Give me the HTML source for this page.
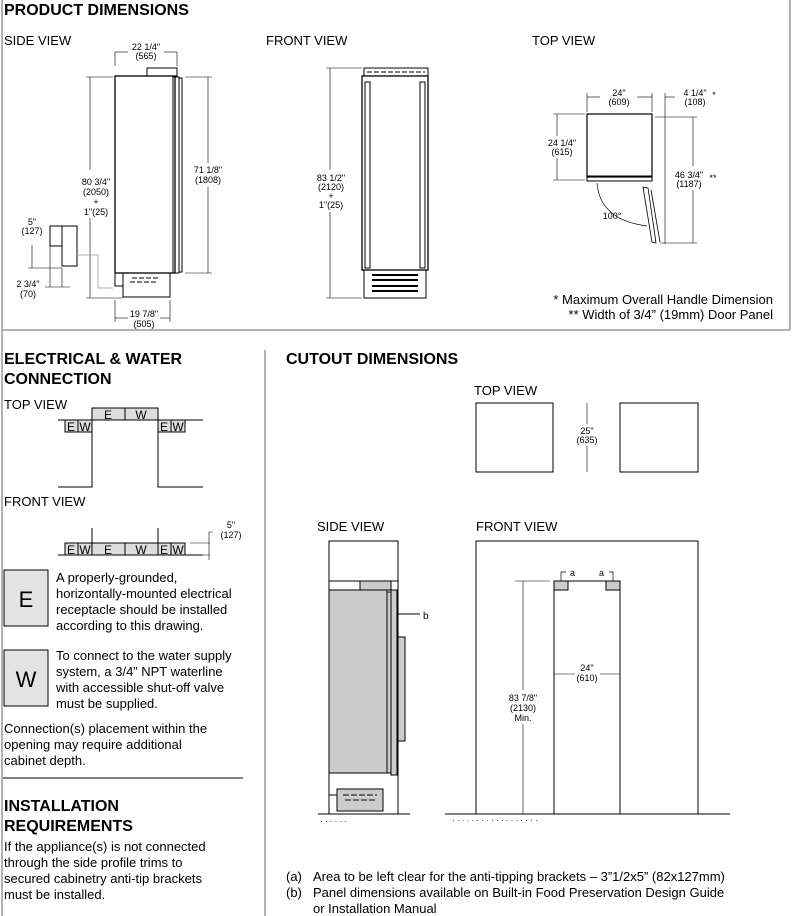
<!DOCTYPE html>
<html><head><meta charset="utf-8"><style>
html,body{margin:0;padding:0;background:#fff}
svg{display:block;font-family:"Liberation Sans",Arial,sans-serif}
</style></head><body>
<svg width="793" height="916" viewBox="0 0 793 916" xmlns="http://www.w3.org/2000/svg">
<g stroke="#999" stroke-width="1.5" fill="none">
<line x1="2" y1="0" x2="2" y2="916"/>
<line x1="790" y1="0" x2="790" y2="330"/>
<line x1="2" y1="330" x2="790" y2="330"/>
<line x1="265" y1="350" x2="265" y2="916"/>
</g>
<line x1="3" y1="778" x2="243" y2="778" stroke="#000" stroke-width="1"/>

<!-- headings -->
<g font-weight="bold" font-size="16" fill="#000">
<text x="4" y="15">PRODUCT DIMENSIONS</text>
<text x="4" y="364">ELECTRICAL &amp; WATER</text>
<text x="4" y="384">CONNECTION</text>
<text x="286" y="364">CUTOUT DIMENSIONS</text>
<text x="4" y="811">INSTALLATION</text>
<text x="4" y="831">REQUIREMENTS</text>
</g>
<g font-size="13" fill="#000">
<text x="4" y="45">SIDE VIEW</text>
<text x="266" y="45">FRONT VIEW</text>
<text x="532" y="45">TOP VIEW</text>
<text x="773" y="304" text-anchor="end">* Maximum Overall Handle Dimension</text>
<text x="773" y="319" text-anchor="end">** Width of 3/4” (19mm) Door Panel</text>
<text x="4" y="409">TOP VIEW</text>
<text x="4" y="506">FRONT VIEW</text>
<text x="474" y="395">TOP VIEW</text>
<text x="317" y="531">SIDE VIEW</text>
<text x="476" y="531">FRONT VIEW</text>
<text x="56" y="582">A properly-grounded,</text>
<text x="56" y="598">horizontally-mounted electrical</text>
<text x="56" y="614">receptacle should be installed</text>
<text x="56" y="630">according to this drawing.</text>
<text x="56" y="660">To connect to the water supply</text>
<text x="56" y="676">system, a 3/4” NPT waterline</text>
<text x="56" y="692">with accessible shut-off valve</text>
<text x="56" y="708">must be supplied.</text>
<text x="4" y="733">Connection(s) placement within the</text>
<text x="4" y="749">opening may require additional</text>
<text x="4" y="765">cabinet depth.</text>
<text x="4" y="851">If the appliance(s) is not connected</text>
<text x="4" y="867">through the side profile trims to</text>
<text x="4" y="883">secured cabinetry anti-tip brackets</text>
<text x="4" y="899">must be installed.</text>
<text x="286" y="881">(a)</text><text x="313" y="881">Area to be left clear for the anti-tipping brackets – 3”1/2x5” (82x127mm)</text>
<text x="286" y="897">(b)</text><text x="313" y="897">Panel dimensions available on Built-in Food Preservation Design Guide</text>
<text x="313" y="913">or Installation Manual</text>
</g>

<!-- SIDE VIEW product -->
<g stroke="#000" fill="none" stroke-width="1">
<rect x="147" y="68" width="30" height="8"/>
<rect x="115" y="76" width="60" height="197" stroke-width="1.3"/>
<rect x="173" y="77" width="6" height="196"/>
<rect x="179" y="78" width="3" height="194"/>
<rect x="123" y="273" width="47" height="24"/>
<rect x="115" y="273" width="8" height="13"/>
<path d="M130 282h28M132 278h28" stroke-dasharray="5 2"/>
<rect x="50" y="226" width="12" height="20"/>
<rect x="62" y="226" width="15" height="40"/>
</g>
<g stroke="#000" stroke-width="0.6" fill="none">
<line x1="115" y1="52" x2="115" y2="66"/><line x1="177" y1="52" x2="177" y2="66"/>
<line x1="115" y1="52" x2="128" y2="52"/><line x1="164" y1="52" x2="177" y2="52"/>
<line x1="90" y1="77" x2="90" y2="170"/><line x1="90" y1="218" x2="90" y2="298"/>
<line x1="86" y1="77" x2="113" y2="77"/><line x1="86" y1="298" x2="123" y2="298"/>
<line x1="208" y1="77" x2="208" y2="163"/><line x1="208" y1="187" x2="208" y2="273"/>
<line x1="185" y1="77" x2="212" y2="77"/><line x1="185" y1="273" x2="212" y2="273"/>
<line x1="115" y1="300" x2="115" y2="322"/><line x1="170" y1="300" x2="170" y2="322"/>
<line x1="115" y1="318" x2="128" y2="318"/><line x1="160" y1="318" x2="170" y2="318"/>
<line x1="32" y1="245" x2="32" y2="268"/><line x1="28" y1="268" x2="62" y2="268"/>
<line x1="50" y1="246" x2="50" y2="287"/><line x1="62" y1="268" x2="62" y2="287"/>
<line x1="45" y1="287" x2="70" y2="287"/>
</g>
<polyline points="77,255 98,255 98,288 113,288" stroke="#999" fill="none" stroke-width="0.8"/>
<g font-size="9" fill="#000" text-anchor="middle">
<text x="146" y="50">22 1/4"</text><text x="146" y="59">(565)</text>
<text x="96" y="185">80 3/4"</text><text x="96" y="195">(2050)</text><text x="96" y="205">+</text><text x="96" y="215">1"(25)</text>
<text x="208" y="173">71 1/8"</text><text x="208" y="183">(1808)</text>
<text x="144" y="317">19 7/8"</text><text x="144" y="327">(505)</text>
<text x="32" y="225">5"</text><text x="32" y="234">(127)</text>
<text x="28" y="287">2 3/4"</text><text x="28" y="297">(70)</text>
</g>

<!-- FRONT VIEW product -->
<g stroke="#000" fill="none" stroke-width="1">
<rect x="364" y="68" width="64" height="8"/>
<path d="M367 72h58" stroke-dasharray="5 2"/>
<rect x="362" y="76" width="66" height="194" stroke-width="1.3"/>
<rect x="365" y="82" width="5" height="186"/>
<rect x="420" y="82" width="5" height="186"/>
<rect x="364" y="270" width="62" height="28"/>
<path d="M372 275h46M372 280h46M372 286h46M372 291h46" stroke-width="2"/>
<line x1="326" y1="68" x2="362" y2="68" stroke-width="0.6"/>
<line x1="326" y1="298" x2="362" y2="298" stroke-width="0.6"/>
<line x1="330" y1="68" x2="330" y2="170" stroke-width="0.6"/>
<line x1="330" y1="212" x2="330" y2="298" stroke-width="0.6"/>
</g>
<g font-size="9" fill="#000" text-anchor="middle">
<text x="331" y="181">83 1/2"</text><text x="331" y="190">(2120)</text><text x="331" y="199">+</text><text x="331" y="208">1"(25)</text>
</g>

<!-- TOP VIEW product -->
<g stroke="#000" fill="none">
<rect x="587" y="114" width="65" height="63" stroke-width="1.2"/>
<rect x="587" y="176" width="65" height="5" stroke-width="1"/>
<path d="M643 187 L652 242 L656 243 L648 188Z" stroke-width="0.8"/>
<path d="M651 190 L660 242" stroke-width="0.8"/>
<path d="M597 183 Q600 220 647 226" stroke-width="0.7"/>
<g stroke-width="0.6">
<line x1="587" y1="97" x2="600" y2="97"/><line x1="637" y1="97" x2="652" y2="97"/>
<line x1="587" y1="93" x2="587" y2="112"/><line x1="652" y1="93" x2="652" y2="112"/>
<line x1="665" y1="93" x2="665" y2="244"/><line x1="665" y1="97" x2="675" y2="97"/>
<line x1="557" y1="114" x2="557" y2="136"/><line x1="557" y1="158" x2="557" y2="180"/>
<line x1="553" y1="114" x2="585" y2="114"/><line x1="553" y1="180" x2="585" y2="180"/>
<line x1="693" y1="117" x2="693" y2="166"/><line x1="693" y1="190" x2="693" y2="243"/>
<line x1="655" y1="117" x2="697" y2="117"/><line x1="660" y1="243" x2="697" y2="243"/>
</g>
</g>
<g font-size="9" fill="#000" text-anchor="middle">
<text x="619" y="96">24"</text><text x="619" y="105">(609)</text>
<text x="695" y="96">4 1/4"</text><text x="695" y="105">(108)</text><text x="714" y="98">*</text>
<text x="562" y="146">24 1/4"</text><text x="562" y="155">(615)</text>
<text x="689" y="178">46 3/4"</text><text x="689" y="187">(1187)</text><text x="713" y="181">**</text>
<text x="612" y="219">100°</text>
</g>

<!-- ELECTRICAL TOP VIEW -->
<g stroke="#000" stroke-width="1">
<rect x="92" y="408" width="66" height="12" fill="#ddd"/>
<line x1="125" y1="408" x2="125" y2="420"/>
<rect x="65" y="420" width="27" height="12" fill="#ddd"/>
<line x1="78" y1="420" x2="78" y2="432"/>
<rect x="158" y="420" width="27" height="12" fill="#ddd"/>
<line x1="171" y1="420" x2="171" y2="432"/>
<path d="M58 420H92V487H58M203 420H158V487H203" fill="none"/>
</g>
<g font-size="12" fill="#000" text-anchor="middle">
<text x="108" y="419">E</text><text x="141" y="419">W</text>
<text x="71" y="431">E</text><text x="85" y="431">W</text>
<text x="164" y="431">E</text><text x="178" y="431">W</text>
</g>
<!-- ELECTRICAL FRONT VIEW -->
<g stroke="#000" stroke-width="1">
<rect x="65" y="543" width="120" height="12" fill="#ddd"/>
<path d="M78 543v12M92 543v12M125 543v12M158 543v12M171 543v12M92 528v15M158 528v15M58 555H203" fill="none"/>
<path d="M213 532h-4v28M190 543h20M190 555h20" fill="none" stroke-width="0.6"/>
</g>
<g font-size="12" fill="#000" text-anchor="middle">
<text x="71" y="554">E</text><text x="85" y="554">W</text><text x="108" y="554">E</text><text x="141" y="554">W</text>
<text x="164" y="554">E</text><text x="178" y="554">W</text>
</g>
<g font-size="9" fill="#000" text-anchor="middle"><text x="231" y="528">5"</text><text x="231" y="538">(127)</text></g>

<!-- E / W legend -->
<rect x="4" y="570" width="44" height="56" fill="#e3e3e3" stroke="#000"/>
<rect x="4" y="650" width="44" height="56" fill="#e3e3e3" stroke="#000"/>
<text x="26" y="607" font-size="22" text-anchor="middle">E</text>
<text x="26" y="687" font-size="22" text-anchor="middle">W</text>

<!-- CUTOUT TOP VIEW -->
<g stroke="#000" fill="none" stroke-width="1">
<rect x="476" y="403" width="77" height="69"/>
<rect x="620" y="403" width="78" height="69"/>
<line x1="587" y1="403" x2="587" y2="424" stroke-width="0.6"/>
<line x1="587" y1="446" x2="587" y2="472" stroke-width="0.6"/>
</g>
<g font-size="9" fill="#000" text-anchor="middle"><text x="587" y="434">25"</text><text x="587" y="443">(635)</text></g>

<!-- CUTOUT SIDE VIEW -->
<g stroke="#000" stroke-width="1">
<rect x="329" y="541" width="69" height="40" fill="#fff"/>
<rect x="360" y="581" width="31" height="9" fill="#ccc"/>
<rect x="329" y="590" width="58" height="183" fill="#ccc"/>
<rect x="387" y="592" width="4" height="181" fill="#ccc"/>
<rect x="391" y="590" width="6" height="185" fill="#ccc"/>
<rect x="397" y="637" width="8" height="104" fill="#ccc"/>
<rect x="337" y="789" width="46" height="22" fill="#ccc"/>
<path d="M329 581V814M398 541V814M329 773h8M329 795h8M318 814H410M398 614H420" fill="none"/>
<path d="M343 795h34M345 800h30" fill="none" stroke-dasharray="6 2"/>
</g>
<text x="423" y="619" font-size="10">b</text>

<!-- CUTOUT FRONT VIEW -->
<g stroke="#000" fill="none" stroke-width="1">
<path d="M476 814V541H698V814"/>
<path d="M554 814V581H620V814"/>
<rect x="554" y="581" width="14" height="9" fill="#ccc"/>
<rect x="606" y="581" width="14" height="9" fill="#ccc"/>
<path d="M561 581v-9h5M613 581v-9h-4" stroke-width="0.7"/>
<path d="M445 814H730" stroke-width="1"/>
<g stroke-width="0.6">
<line x1="515" y1="581" x2="550" y2="581"/>
<line x1="523" y1="581" x2="523" y2="690"/><line x1="523" y1="724" x2="523" y2="814"/>
<line x1="554" y1="674" x2="575" y2="674"/><line x1="600" y1="674" x2="620" y2="674"/>
</g>
</g>
<g font-size="9" fill="#000" text-anchor="middle">
<text x="570" y="576" text-anchor="start">a</text><text x="604" y="576" text-anchor="end">a</text>
<text x="523" y="701">83 7/8"</text><text x="523" y="711">(2130)</text><text x="523" y="721">Min.</text>
<text x="587" y="671">24"</text><text x="587" y="681">(610)</text>
</g>
<g fill="#000" font-size="8">
<text x="320" y="824">· ·  ·    ·     ·    ·</text>
<text x="452" y="823">·  · ·   ·  ·   · ·  · ·  ·   · ·  ·    ·   · ·  ·  ·</text>
</g>
</svg>
</body></html>
